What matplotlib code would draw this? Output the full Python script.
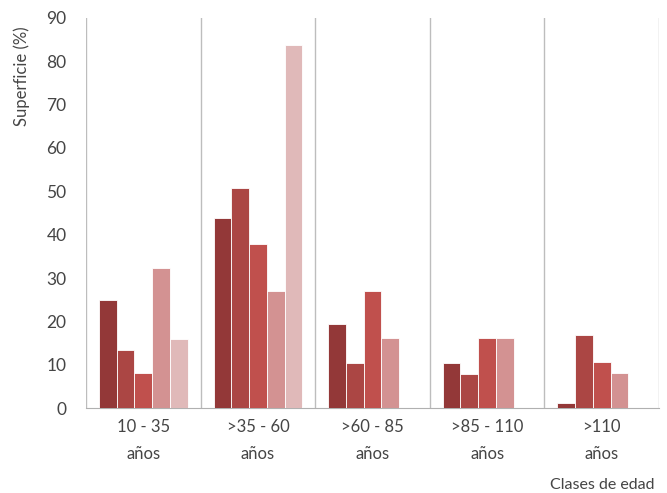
import numpy as np
import matplotlib
matplotlib.use("Agg")
import matplotlib.pyplot as plt

plt.rcParams["font.family"] = ["Lato", "DejaVu Sans"]

# age classes and the five series (%)
categories = ["10 - 35\naños", ">35 - 60\naños", ">60 - 85\naños",
              ">85 - 110\naños", ">110\naños"]
serie_1 = [25.0, 43.8, 19.4, 10.3, 1.1]
serie_2 = [13.4, 50.8, 10.5, 7.8, 16.8]
serie_3 = [8.0, 37.8, 26.9, 16.1, 10.7]
serie_4 = [32.4, 26.9, 16.2, 16.1, 8.0]
serie_5 = [16.0, 83.8, np.nan, np.nan, np.nan]
series = [serie_1, serie_2, serie_3, serie_4, serie_5]
colors = ["#933838", "#ab4644", "#c0504d", "#d39292", "#e0b9b9"]

TXT = "#454545"

fig = plt.figure(figsize=(6.67, 4.93), dpi=100)
ax = fig.add_axes([0.129, 0.1724, 0.859, 0.7911])

x = np.arange(len(categories))
w = 0.155
for i, (vals, c) in enumerate(zip(series, colors)):
    ax.bar(x + (i - 2) * w, vals, width=w, color=c, edgecolor="white",
           linewidth=0.6, zorder=3)

# group separators
for b in np.arange(len(categories) + 1) - 0.5:
    ax.axvline(b, color="#bdbdbd", lw=1.0, zorder=1)

ax.set_xlim(-0.5, len(categories) - 0.5)
ax.set_ylim(0, 90)
ax.set_yticks(range(0, 91, 10))
ax.set_xticks(x)
ax.set_xticklabels(categories, fontsize=12, color=TXT, linespacing=1.8)
ax.tick_params(axis="y", labelsize=12.5, labelcolor=TXT, length=0, pad=14)
ax.tick_params(axis="x", length=0, pad=8)

for s in ["top", "right", "left"]:
    ax.spines[s].set_visible(False)
ax.spines["bottom"].set_color("#b0b0b0")

ax.set_ylabel("Superficie (%)", fontsize=12, color=TXT)
ax.yaxis.set_label_coords(-0.098, 0.85)
fig.text(0.982, 0.008, "Clases de edad", ha="right", va="baseline",
         fontsize=11.5, color=TXT)

fig.savefig("out.png", dpi=100)
